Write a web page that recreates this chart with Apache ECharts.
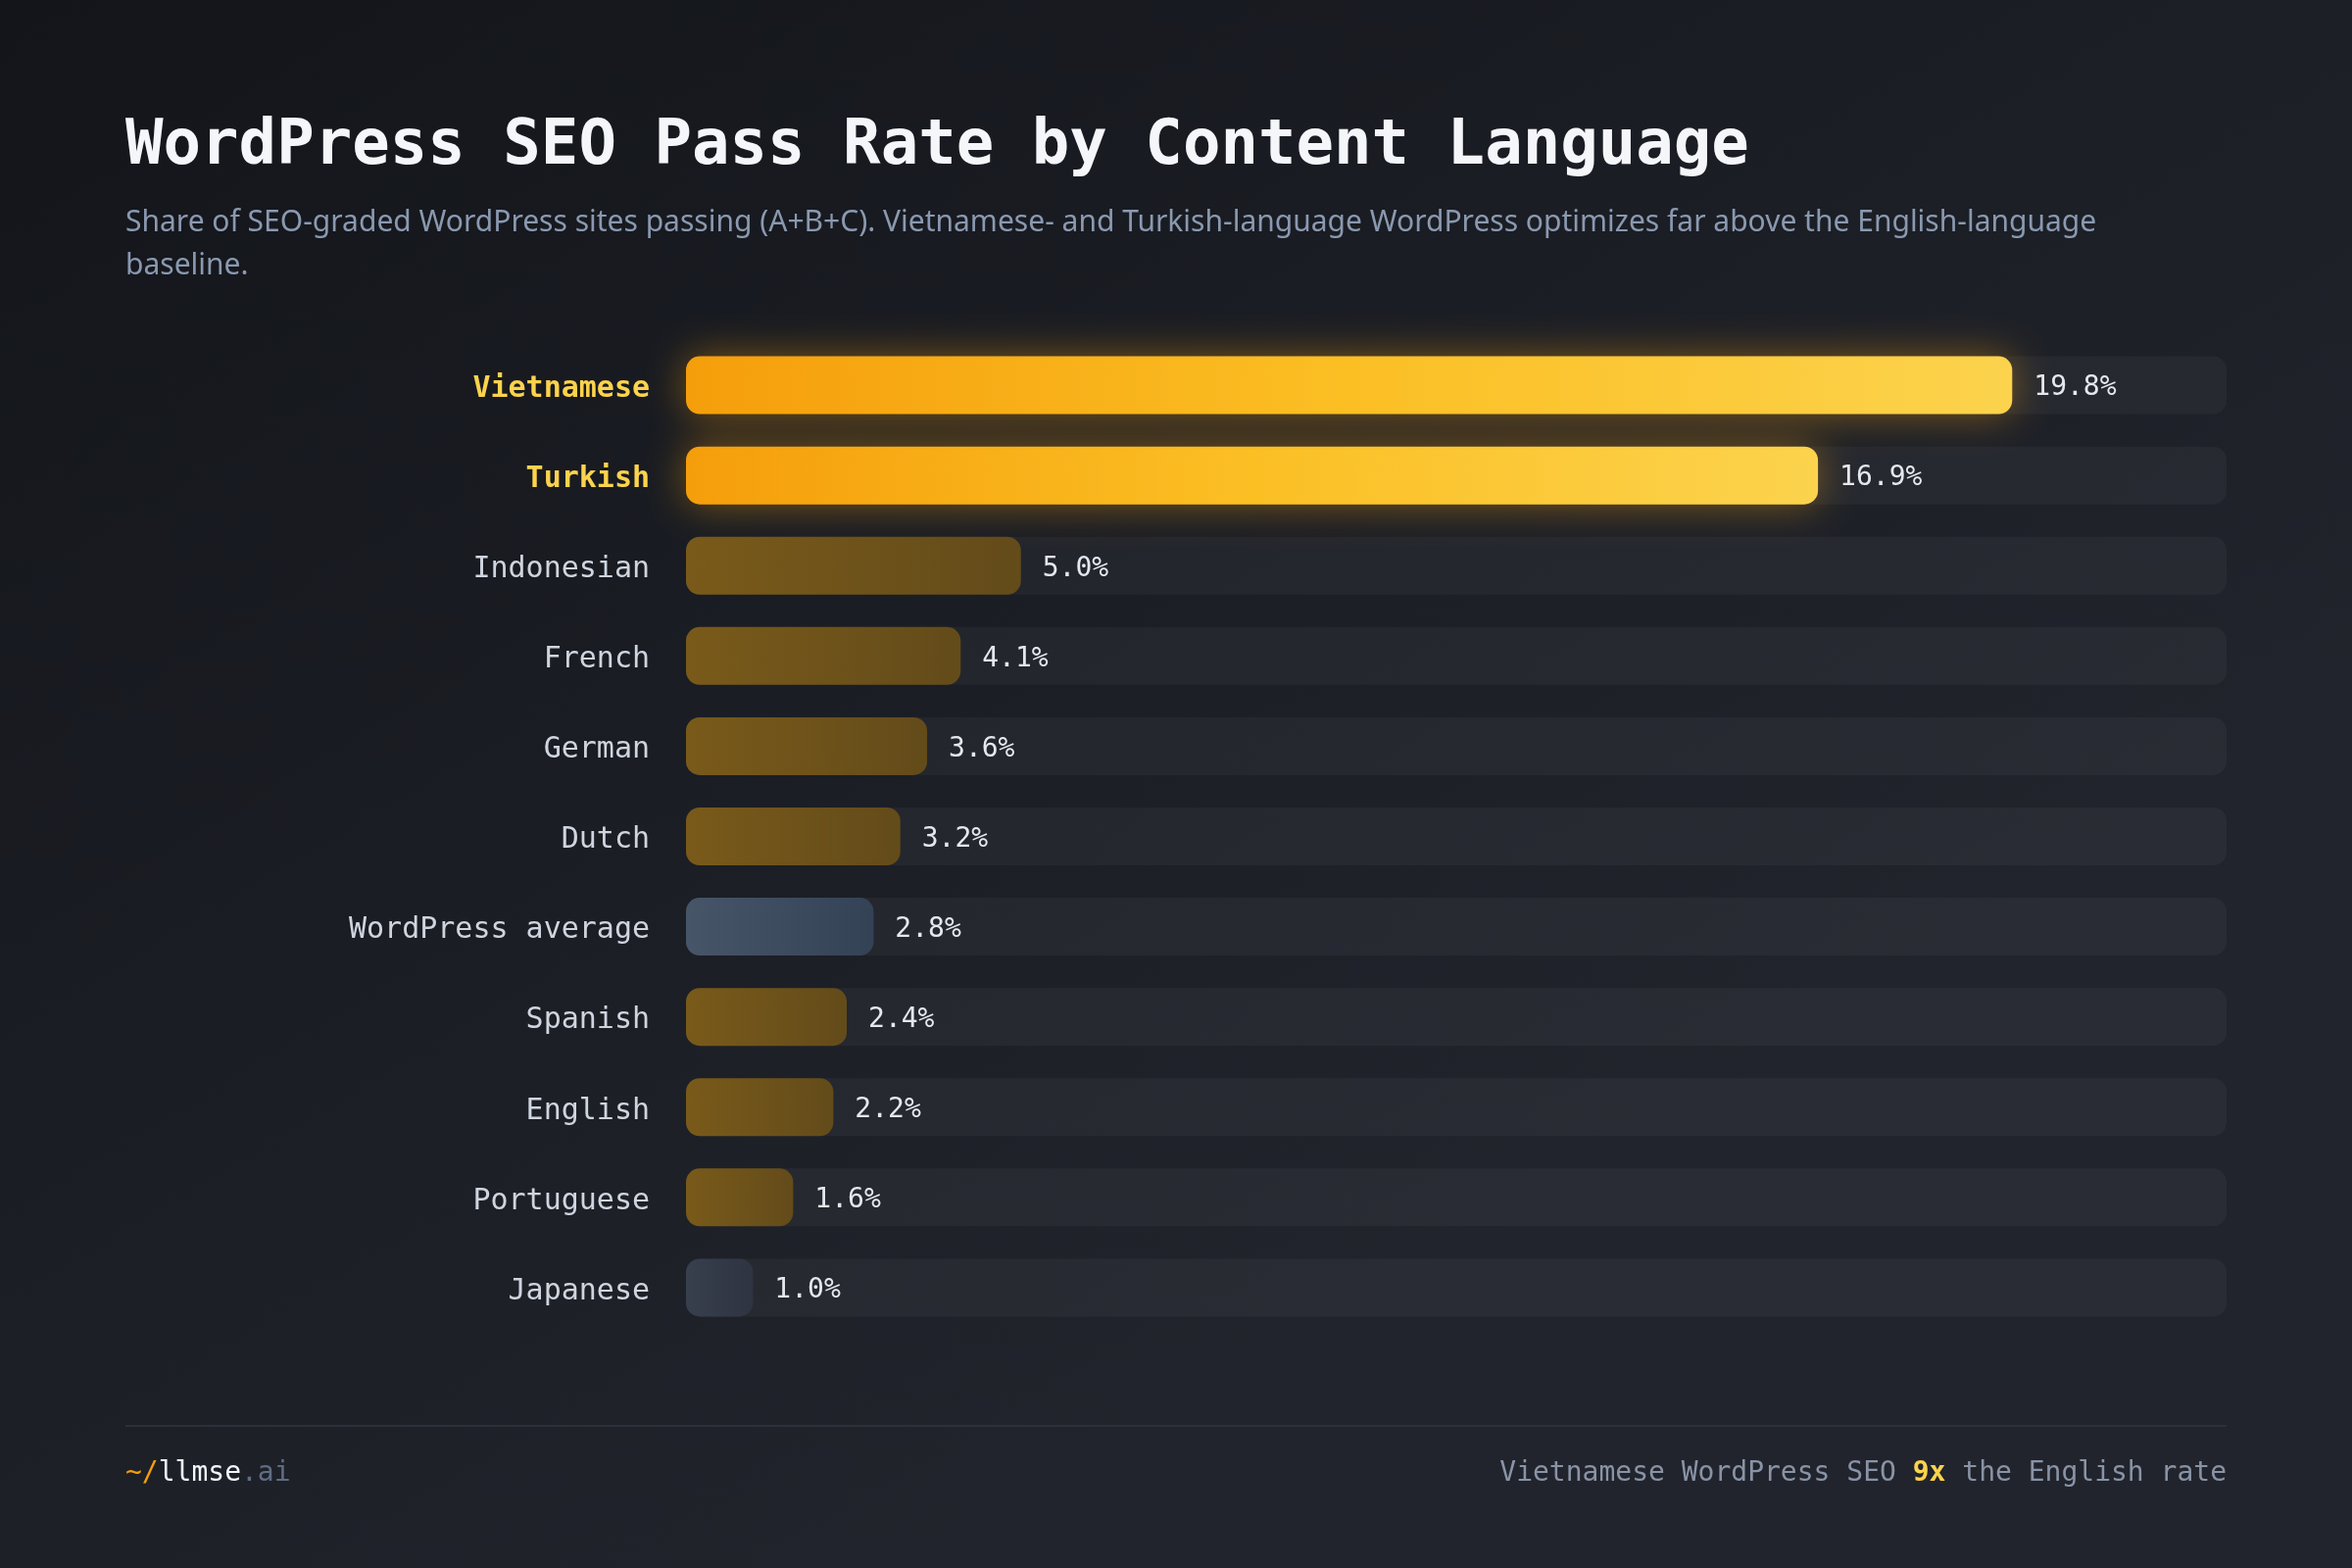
<!DOCTYPE html>
<html>
<head>
    <meta charset="utf-8">
    <title>WordPress SEO Pass Rate by Content Language</title>
    <script src="https://cdn.jsdelivr.net/npm/echarts@6.0.0/dist/echarts.min.js"></script>
    <style>
        html, body { margin: 0; padding: 0; background: #181a20; }
        #chart { width: 2400px; height: 1600px; }
    </style>
</head>
<body>
<div id="chart"></div>

<script type="text/javascript">
    // chart data
    var languages = ['Vietnamese', 'Turkish', 'Indonesian', 'French', 'German', 'Dutch',
        'WordPress average', 'Spanish', 'English', 'Portuguese', 'Japanese'];
    var passRates = [19.8, 16.9, 5.0, 4.1, 3.6, 3.2, 2.8, 2.4, 2.2, 1.6, 1.0];
    var highlighted = ['Vietnamese', 'Turkish'];
    var averageRows = ['WordPress average'];
    var mutedRows = ['Japanese'];

    var mono = '"DejaVu Sans Mono", "Liberation Mono", monospace';
    var sans = '"Noto Sans", "Open Sans", sans-serif';

    function grad(c1, c2, c3) {
        var stops = [{offset: 0, color: c1}];
        if (c3) {
            stops.push({offset: 0.5, color: c2});
            stops.push({offset: 1, color: c3});
        } else {
            stops.push({offset: 1, color: c2});
        }
        return new echarts.graphic.LinearGradient(0, 0, 1, 0, stops);
    }

    function barStyle(name) {
        if (highlighted.indexOf(name) != -1) {
            return {
                color: grad('#f59e0b', '#fbbf24', '#fcd34d'),
                borderRadius: 14,
                shadowBlur: 40,
                shadowColor: 'rgba(245,158,11,0.45)'
            };
        }
        if (averageRows.indexOf(name) != -1) {
            return {color: grad('#475569', '#344256'), borderRadius: 14};
        }
        if (mutedRows.indexOf(name) != -1) {
            return {color: grad('#383f4d', '#2e3441'), borderRadius: 14};
        }
        return {color: grad('#795a1a', '#634b1a'), borderRadius: 14};
    }

    var barData = [];
    for (var i = 0; i < languages.length; i++) {
        barData.push({value: passRates[i], itemStyle: barStyle(languages[i])});
    }

    var dom = document.getElementById('chart');
    var myChart = echarts.init(dom, null, {renderer: 'canvas'});

    var option = {
        animation: false,
        backgroundColor: new echarts.graphic.LinearGradient(0, 0, 0.4, 1, [
            {offset: 0, color: '#13151a'},
            {offset: 1, color: '#21242c'}
        ]),
        grid: {left: 700, right: 128, top: 347, bottom: 240},
        xAxis: {
            type: 'value',
            min: 0,
            max: 23,
            show: false
        },
        yAxis: {
            type: 'category',
            data: languages,
            inverse: true,
            axisLine: {show: false},
            axisTick: {show: false},
            splitLine: {show: false},
            axisLabel: {
                margin: 37,
                formatter: function (v) {
                    return highlighted.indexOf(v) != -1 ? '{hi|' + v + '}' : '{norm|' + v + '}';
                },
                rich: {
                    hi: {fontFamily: mono, fontSize: 30, fontWeight: 'bold', color: '#fcd34d', padding: [8, 0, 0, 0]},
                    norm: {fontFamily: mono, fontSize: 30, color: '#cfd5df', padding: [8, 0, 0, 0]}
                }
            }
        },
        series: [{
            type: 'bar',
            data: barData,
            barWidth: 59,
            showBackground: true,
            backgroundStyle: {color: 'rgba(255,255,255,0.04)', borderRadius: 14},
            label: {
                show: true,
                position: 'right',
                distance: 22,
                offset: [0, 3],
                fontFamily: mono,
                fontSize: 28,
                color: '#e5e8ee',
                formatter: function (p) {
                    return p.value.toFixed(1) + '%';
                }
            }
        }],
        graphic: [
            {
                type: 'text',
                left: 128,
                top: 118,
                style: {
                    text: 'WordPress SEO Pass Rate by Content Language',
                    fontFamily: mono,
                    fontSize: 64,
                    fontWeight: 'bold',
                    fill: '#f4f6fa'
                }
            },
            {
                type: 'text',
                left: 128,
                top: 205,
                style: {
                    text: 'Share of SEO-graded WordPress sites passing (A+B+C). Vietnamese- and Turkish-language WordPress optimizes far above the English-language\nbaseline.',
                    fontFamily: sans,
                    fontSize: 30,
                    lineHeight: 44,
                    fill: '#8a99b0'
                }
            },
            {
                type: 'rect',
                shape: {x: 128, y: 1454, width: 2144, height: 2},
                style: {fill: '#2b303b'}
            },
            {
                type: 'text',
                left: 128,
                top: 1490,
                style: {
                    text: '{a|~/}{b|llmse}{c|.ai}',
                    rich: {
                        a: {fontFamily: mono, fontSize: 28, fill: '#f59e0b'},
                        b: {fontFamily: mono, fontSize: 28, fill: '#f3f5f9'},
                        c: {fontFamily: mono, fontSize: 28, fill: '#5f6d84'}
                    }
                }
            },
            {
                type: 'text',
                right: 128,
                top: 1490,
                style: {
                    text: '{n|Vietnamese WordPress SEO }{h|9x}{n| the English rate}',
                    rich: {
                        n: {fontFamily: mono, fontSize: 28, fill: '#8993a6'},
                        h: {fontFamily: mono, fontSize: 28, fontWeight: 'bold', fill: '#fcd34d'}
                    }
                }
            }
        ]
    };

    myChart.setOption(option, true);
</script>
</body>
</html>
